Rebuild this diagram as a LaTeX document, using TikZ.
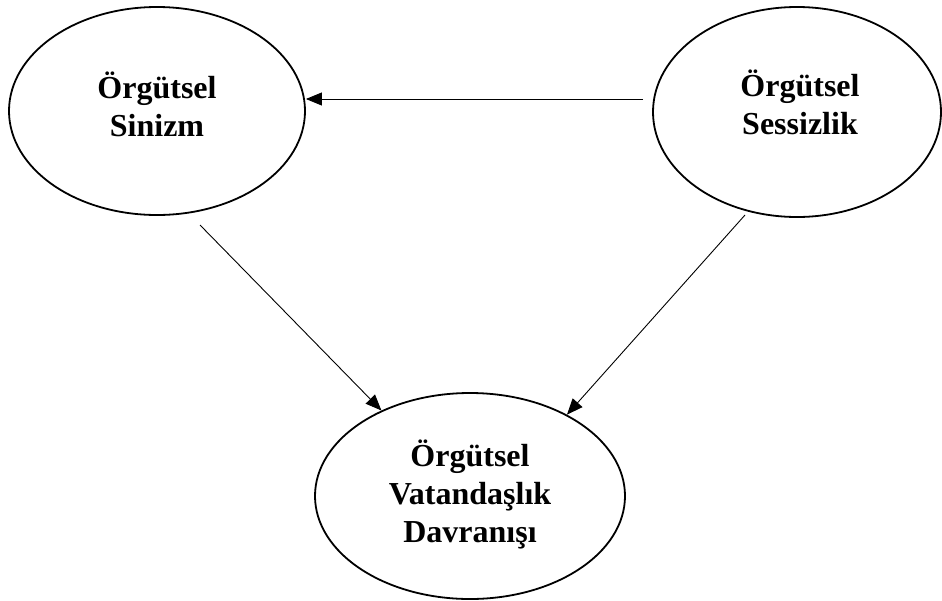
\documentclass[tikz,border=0pt]{standalone}
\usepackage{fontspec}
\setmainfont{Liberation Serif}
\usetikzlibrary{shapes.geometric,arrows.meta}
\begin{document}
\begin{tikzpicture}[x=1pt,y=-1pt,
  oval/.style={draw,line width=1.8pt,ellipse,inner sep=0pt},
  txt/.style={align=center,inner sep=0pt,font=\fontsize{32}{38}\selectfont\bfseries},
  arr/.style={line width=0.9pt,-{Triangle[length=16pt,width=13pt]}}]
\useasboundingbox (0,0) rectangle (942,600);
\node[oval,minimum width=296pt,minimum height=208pt] (L) at (157,111) {};
\node[oval,minimum width=288pt,minimum height=210pt] (R) at (797,112) {};
\node[oval,minimum width=310pt,minimum height=206pt] (B) at (470,496) {};
\node[txt] (Lt) at (157,104) {Örgütsel\\Sinizm};
\node[txt] (Rt) at (800,102) {Örgütsel\\Sessizlik};
\node[txt] (Bt) at (470,494) {Örgütsel\\Vatandaşlık\\Davranışı};
\coordinate (h1) at (643,99);
\coordinate (s1) at (200,225);
\coordinate (s2) at (745,215);
\draw[arr] (h1) -- (h1 -| L.east);
\draw[arr] (s1) -- (B.136.6);
\draw[arr] (s2) -- (B.40.4);
\end{tikzpicture}
\end{document}
